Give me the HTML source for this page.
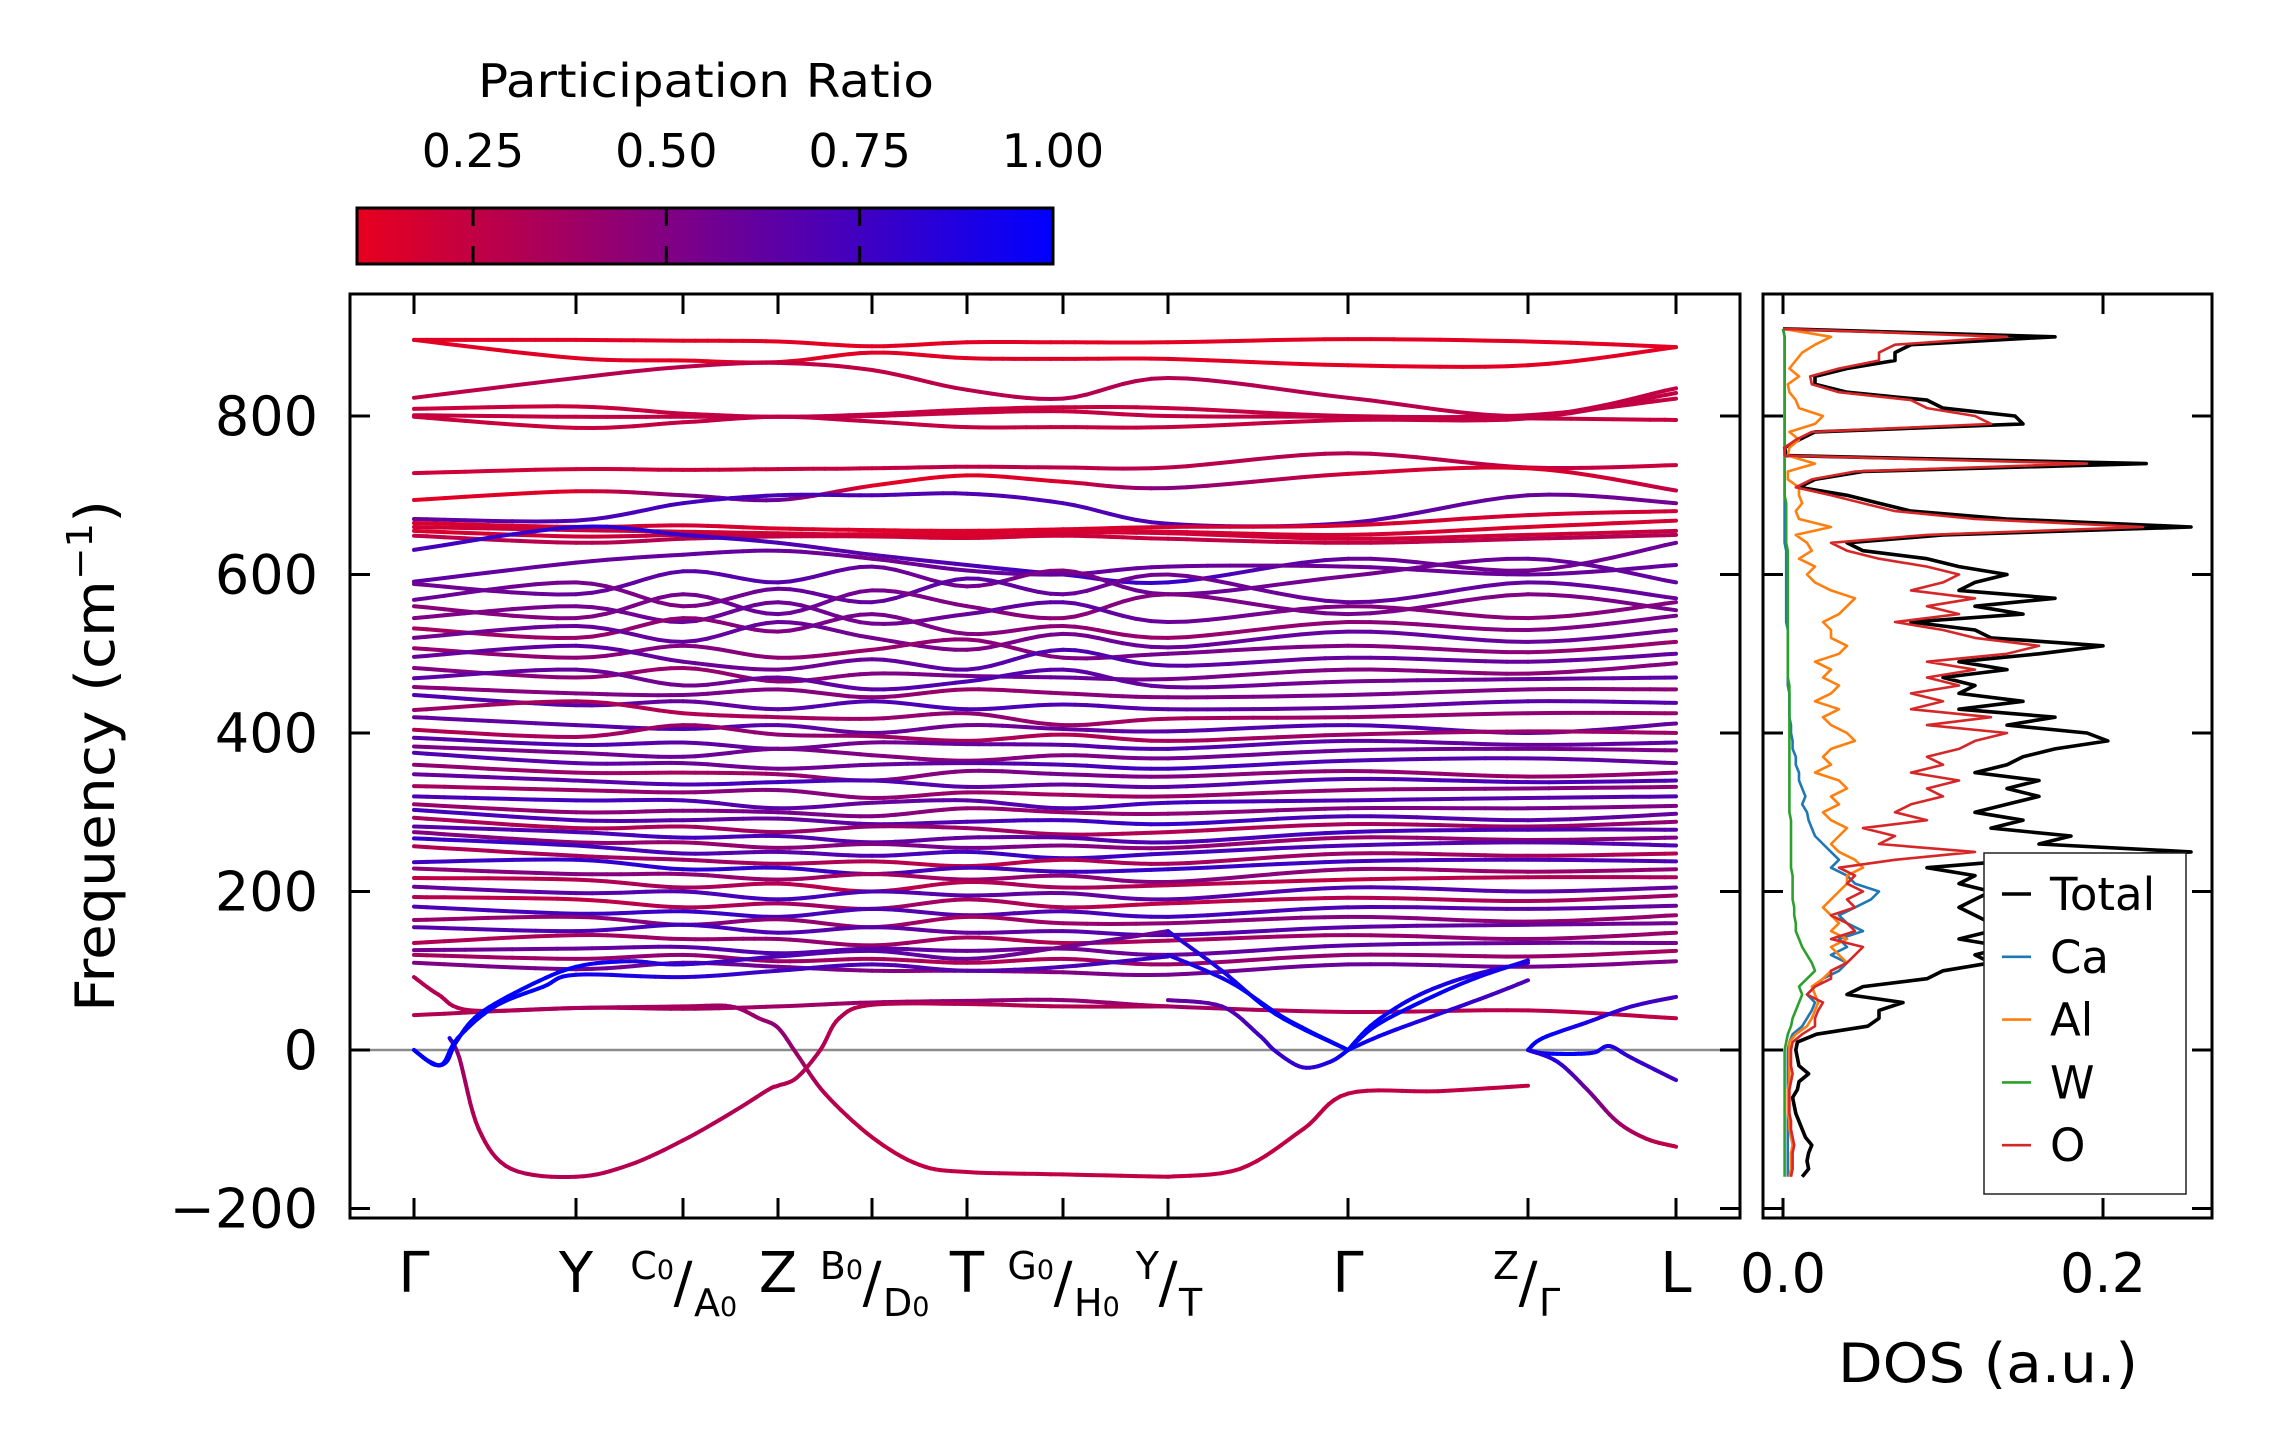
<!DOCTYPE html>
<html><head><meta charset="utf-8"><style>
html,body{margin:0;padding:0;background:#fff;}
svg{display:block;font-family:"DejaVu Sans","Liberation Sans",sans-serif;}
</style></head><body>
<svg id="chart" width="2271" height="1455" viewBox="0 0 2271 1455" xmlns="http://www.w3.org/2000/svg">
<defs>
<linearGradient id="cbgrad" x1="0" x2="1" y1="0" y2="0">
<stop offset="0" stop-color="rgb(232,0,30)"/><stop offset="1" stop-color="rgb(0,0,255)"/>
</linearGradient>
<clipPath id="mainclip"><rect x="350" y="294" width="1390" height="924"/></clipPath>
<clipPath id="dosclip"><rect x="1763" y="294" width="449" height="924"/></clipPath>
</defs>
<rect x="0" y="0" width="2271" height="1455" fill="#fff"/>
<g>
<text x="706" y="97" font-size="46" text-anchor="middle" textLength="456" lengthAdjust="spacingAndGlyphs">Participation Ratio</text>
<rect x="357" y="208" width="696" height="56" fill="url(#cbgrad)" stroke="#000" stroke-width="3"/>
<g id="cbticks"></g>
</g>
<g id="mainplot">
<line x1="350" x2="1740" y1="1050" y2="1050" stroke="#8c8c8c" stroke-width="2.5"/>
<g id="bands" clip-path="url(#mainclip)"></g>
<rect x="350" y="294" width="1390" height="924" fill="none" stroke="#000" stroke-width="3"/>
<g id="mainticks"></g>
<text transform="translate(114,756) rotate(-90)" font-size="54" text-anchor="middle" textLength="512" lengthAdjust="spacingAndGlyphs">Frequency (cm<tspan font-size="36" dy="-22">−1</tspan><tspan dy="22">)</tspan></text>
</g>
<g id="dosplot">
<g id="doslines" clip-path="url(#dosclip)"></g>
<rect x="1763" y="294" width="449" height="924" fill="none" stroke="#000" stroke-width="3"/>
<g id="dosticks"></g>
<text x="1988" y="1382" font-size="54" text-anchor="middle" textLength="300" lengthAdjust="spacingAndGlyphs">DOS (a.u.)</text>
<g>
<rect x="1984" y="853" width="202" height="341" fill="#fff" stroke="#222" stroke-width="1.5"/>
<g id="legendentries"></g>
</g>
</g>
</svg>
<script>
const kLabels = ["Γ","Y","C0|A0","Z","B0|D0","T","G0|H0","Y|T","Γ","Z|Γ","L"];
const kDist = [0,162,269,364,458,553,649,754,934,1114,1262];
const yTicks = [-200,0,200,400,600,800];
const cbTicks = [0.25,0.50,0.75,1.00];
const dosTicks = [0.0,0.2];
const bandFreqs = [
[896,896,895,894,888,893,893,893,897,894,887],
[896,873,870,868,880,873,872,872,864,864,887],
[823,848,862,867,858,833,822,848,823,800,835],
[809,812,803,799,802,808,811,810,800,801,822],
[801,799,799,799,800,804,806,800,799,797,795],
[799,785,792,799,793,786,786,786,795,797,829],
[728,733,732,733,734,736,735,735,753,735,738],
[694,705,700,694,712,725,717,709,727,734,706],
[670,668,690,700,700,702,690,664,665,700,690],
[665,660,662,658,656,655,657,660,662,675,680],
[660,656,654,652,650,652,655,654,650,660,668],
[655,648,650,650,651,650,653,652,645,650,655],
[649,640,645,648,648,646,649,645,640,645,650],
[631,660,650,640,625,612,600,590,620,605,640],
[591,615,625,630,620,605,600,610,610,600,612],
[588,575,604,590,610,585,605,575,598,620,590],
[568,590,560,582,565,595,575,600,565,590,570],
[560,545,575,550,580,560,545,575,550,575,555],
[545,560,540,565,538,550,565,540,560,545,565],
[532,520,545,528,550,525,535,520,540,530,548],
[520,535,515,540,520,505,525,508,528,515,530],
[507,495,510,495,505,518,495,500,510,502,515],
[496,510,490,480,493,480,505,485,495,490,500],
[482,470,482,465,475,472,470,468,480,475,488],
[469,480,460,470,455,465,480,458,465,468,470],
[458,450,448,455,445,455,450,445,448,455,455],
[448,435,440,430,440,430,436,430,432,440,438],
[429,440,425,420,418,425,410,418,420,425,425],
[420,410,405,410,400,410,405,402,410,400,412],
[404,395,410,398,396,390,398,390,398,402,400],
[394,385,388,380,388,386,385,380,390,385,388],
[383,375,370,380,372,365,372,368,378,380,378],
[375,362,362,355,360,362,360,355,365,368,362],
[360,350,350,348,340,352,348,345,352,345,350],
[348,340,335,338,340,332,335,332,342,338,340],
[333,328,325,328,318,325,322,320,328,330,332],
[320,315,315,305,312,315,305,312,315,318,320],
[310,300,302,300,295,305,300,298,305,305,308],
[303,290,290,292,285,288,290,285,295,290,298],
[293,280,282,275,282,280,272,275,285,282,288],
[282,275,268,270,262,268,268,262,275,278,278],
[275,262,262,255,260,255,258,255,268,265,268],
[267,258,248,250,245,250,242,248,258,262,258],
[257,245,240,235,238,232,240,235,248,245,248],
[237,240,228,230,222,230,225,228,238,240,238],
[229,222,222,215,222,215,220,212,228,225,228],
[217,215,205,210,200,212,205,208,215,218,218],
[206,198,200,190,200,195,198,190,205,200,205],
[193,190,180,185,178,190,180,185,192,188,195],
[181,172,175,168,178,170,175,168,180,178,182],
[164,168,158,165,155,168,160,160,168,162,170],
[155,150,158,148,155,148,150,145,155,158,160],
[135,145,140,140,132,142,135,138,145,140,148],
[126,128,130,122,128,125,128,120,132,135,135],
[120,115,120,112,115,110,115,108,120,118,125],
[110,102,110,105,100,100,98,95,108,105,112],
[44,53,52,55,60,62,63,55,48,50,40]
];
const bandPR = [
[.12,.12,.12,.12,.12,.12,.12,.12,.12,.12,.12],
[.12,.13,.12,.12,.13,.13,.13,.13,.12,.12,.12],
[.25,.3,.28,.25,.25,.28,.3,.3,.3,.25,.25],
[.22,.22,.24,.25,.25,.22,.22,.24,.25,.25,.24],
[.24,.24,.25,.26,.26,.24,.24,.25,.25,.25,.22],
[.22,.22,.25,.26,.26,.24,.24,.24,.24,.25,.25],
[.2,.2,.22,.22,.24,.26,.27,.28,.3,.25,.22],
[.12,.14,.5,.6,.12,.12,.15,.5,.2,.15,.25],
[.6,.7,.75,.72,.7,.68,.7,.7,.65,.6,.55],
[.15,.18,.18,.16,.14,.14,.15,.18,.16,.18,.2],
[.2,.22,.2,.18,.16,.15,.15,.16,.18,.15,.18],
[.15,.2,.25,.2,.15,.15,.18,.2,.2,.2,.25],
[.25,.3,.3,.25,.2,.18,.2,.25,.25,.3,.3],
[.7,.85,.8,.7,.65,.7,.75,.8,.6,.55,.6],
[.65,.6,.62,.6,.55,.6,.62,.6,.58,.6,.62],
[.55,.6,.65,.68,.6,.55,.5,.6,.55,.6,.62],
[.6,.55,.5,.6,.62,.65,.6,.55,.6,.62,.6],
[.45,.5,.55,.6,.55,.5,.45,.5,.55,.5,.55],
[.5,.55,.6,.58,.55,.6,.65,.6,.5,.45,.5],
[.35,.4,.45,.5,.55,.5,.45,.4,.45,.5,.55],
[.55,.6,.62,.6,.55,.5,.55,.6,.62,.6,.55],
[.4,.45,.5,.45,.4,.45,.5,.55,.5,.45,.4],
[.6,.65,.6,.55,.6,.65,.7,.65,.6,.6,.62],
[.5,.45,.4,.45,.5,.55,.6,.55,.5,.45,.5],
[.65,.6,.55,.6,.65,.7,.65,.6,.55,.6,.65],
[.45,.5,.55,.5,.45,.4,.45,.5,.55,.5,.45],
[.7,.65,.6,.65,.7,.72,.7,.65,.6,.65,.68],
[.4,.35,.3,.35,.4,.45,.4,.35,.4,.45,.4],
[.6,.65,.7,.65,.6,.55,.6,.65,.7,.65,.6],
[.3,.35,.4,.45,.4,.35,.3,.35,.4,.4,.38],
[.65,.7,.65,.6,.55,.6,.65,.7,.65,.6,.65],
[.5,.55,.6,.55,.5,.45,.5,.55,.6,.55,.5],
[.7,.65,.6,.55,.6,.65,.7,.75,.7,.65,.6],
[.45,.4,.35,.4,.45,.5,.55,.5,.45,.4,.45],
[.6,.65,.7,.75,.7,.65,.6,.65,.7,.72,.7],
[.35,.4,.45,.5,.45,.4,.35,.4,.45,.5,.45],
[.7,.75,.7,.65,.6,.65,.7,.75,.7,.65,.7],
[.4,.45,.5,.55,.5,.45,.4,.45,.5,.55,.5],
[.75,.7,.65,.6,.65,.7,.75,.8,.7,.65,.6],
[.35,.3,.35,.4,.45,.4,.35,.3,.35,.4,.45],
[.65,.7,.75,.7,.65,.6,.65,.7,.75,.7,.65],
[.5,.45,.4,.45,.5,.55,.5,.45,.4,.45,.5],
[.8,.75,.7,.65,.7,.75,.8,.75,.7,.65,.7],
[.3,.35,.4,.35,.3,.25,.3,.35,.4,.35,.3],
[.75,.8,.85,.8,.75,.7,.75,.8,.75,.7,.7],
[.45,.5,.45,.4,.35,.4,.45,.5,.45,.4,.45],
[.25,.3,.35,.3,.25,.3,.35,.3,.25,.3,.35],
[.6,.65,.7,.75,.7,.65,.6,.65,.7,.65,.6],
[.3,.25,.3,.35,.4,.35,.3,.25,.3,.35,.4],
[.7,.75,.8,.75,.7,.65,.7,.75,.7,.65,.6],
[.4,.45,.5,.45,.4,.35,.4,.45,.5,.45,.4],
[.65,.7,.75,.7,.65,.6,.65,.7,.65,.6,.55],
[.3,.35,.4,.45,.4,.35,.3,.35,.4,.45,.4],
[.55,.6,.65,.7,.65,.6,.55,.6,.65,.6,.55],
[.35,.4,.45,.4,.35,.3,.35,.4,.45,.4,.35],
[.5,.55,.6,.55,.5,.45,.5,.55,.6,.55,.5],
[.3,.35,.35,.38,.4,.45,.45,.4,.3,.28,.25]
];
const specialK = [
[0,0.15,0.35,1,2,2.5,2.8,3,3.2,3.5,4,4.5,5,6,7],
[7,7.4,7.75,8,8.5,9],
[0.22,0.28,0.4,0.6,1,1.5,2,2.5,2.9,3,3.2,3.45,3.65,4,5,6,7],
[0,0.12,0.2,0.26,0.4,0.7,1,1.5,2,3,4,5,6,7],
[0,0.1,0.18,0.27,0.5,0.8,1,2,3,4,5,6,7],
[7,7.3,7.6,8],
[7,7.35,7.65,8],
[7,7.3,7.5,7.6,7.75,7.9,8],
[8,8.15,8.4,8.7,9],
[8,8.15,8.4,8.7,9],
[8,8.2,8.5,8.8,9],
[9,9.1,9.4,9.7,10],
[9,9.1,9.3,9.45,9.55,9.7,10],
[9,9.2,9.4,9.6,9.8,10]
];
const specialF = [
[92,70,50,53,55,55,40,28,-5,-55,-110,-145,-154,-157,-160],
[-160,-150,-100,-55,-52,-45],
[15,-10,-100,-150,-160,-145,-114,-80,-50,-45,-35,0,40,57,58,55,55],
[0,-18,-15,10,45,80,105,112,108,118,125,115,130,150],
[0,-15,-17,15,55,80,95,92,100,108,100,105,118],
[150,100,45,0],
[120,85,40,0],
[63,55,20,-2,-22,-15,0],
[0,35,70,95,110],
[0,30,60,90,113],
[0,20,45,70,88],
[0,15,35,55,67],
[0,-4,-5,-3,5,-10,-38],
[0,-15,-50,-90,-112,-122]
];
const specialP = [
[.3,.3,.3,.35,.35,.4,.4,.45,.4,.3,.25,.25,.25,.25,.25],
[.25,.25,.25,.25,.25,.25],
[1,.4,.3,.3,.3,.3,.3,.3,.3,.3,.3,.3,.3,.3,.3,.3,.35],
[1,1,1,1,1,1,1,.9,.8,.7,.65,.6,.55,.6],
[1,1,1,1,1,1,.95,.85,.75,.7,.65,.7,.8],
[.8,.9,1,1],
[.85,.95,1,1],
[.6,.65,.75,.8,.8,.9,1],
[1,1,.95,.85,.8],
[1,1,1,.95,.9],
[1,.95,.85,.75,.7],
[1,1,.9,.8,.72],
[1,1,1,.95,.9,.8,.75],
[.9,.85,.6,.4,.3,.25]
];
const dosStart = -160, dosStep = 10;
const dosTotal = [.012,.016,.015,.016,.018,.014,.012,.010,.008,.007,.006,.009,.010,.016,.010,.009,.008,.009,.021,.053,.060,.060,.075,.040,.050,.090,.100,.130,.120,.140,.110,.130,.130,.120,.110,.120,.130,.110,.120,.090,.150,.255,.160,.180,.130,.150,.120,.140,.160,.140,.160,.120,.140,.150,.170,.203,.190,.140,.170,.110,.150,.110,.120,.100,.140,.110,.160,.200,.130,.120,.080,.150,.120,.170,.110,.120,.140,.110,.090,.050,.040,.100,.255,.140,.080,.060,.040,.010,.020,.050,.227,.002,.001,.010,.020,.150,.145,.100,.090,.040,.020,.020,.040,.070,.070,.080,.170,0];
const dosO = [.005,.006,.006,.006,.007,.006,.005,.005,.004,.004,.004,.004,.005,.006,.005,.005,.005,.006,.012,.020,.020,.022,.025,.015,.020,.030,.030,.040,.045,.050,.030,.045,.040,.030,.045,.040,.050,.040,.045,.035,.070,.120,.060,.070,.050,.090,.070,.080,.100,.090,.110,.080,.100,.090,.110,.120,.140,.090,.130,.080,.100,.080,.110,.090,.120,.090,.140,.160,.120,.100,.070,.110,.090,.120,.080,.100,.110,.090,.060,.040,.030,.090,.225,.120,.070,.050,.030,.008,.018,.045,.190,.001,.001,.008,.018,.130,.120,.090,.080,.035,.018,.017,.035,.060,.060,.070,.140,0];
const dosAl = [.004,.005,.005,.005,.006,.005,.004,.004,.003,.003,.003,.003,.004,.004,.004,.004,.004,.004,.008,.015,.018,.020,.022,.020,.018,.025,.030,.040,.035,.030,.040,.030,.035,.030,.025,.030,.035,.040,.040,.050,.045,.035,.030,.035,.040,.030,.025,.035,.030,.040,.035,.020,.030,.025,.030,.045,.040,.030,.025,.035,.020,.030,.035,.025,.030,.020,.035,.040,.030,.030,.025,.035,.040,.045,.030,.020,.015,.020,.010,.018,.015,.008,.030,.010,.008,.012,.010,.010,.003,.003,.020,.003,.004,.010,.004,.020,.025,.010,.008,.004,.003,.010,.004,.008,.012,.020,.030,0];
const dosCa = [.003,.003,.003,.003,.003,.003,.003,.003,.003,.003,.003,.003,.003,.003,.003,.003,.003,.004,.006,.012,.015,.018,.020,.015,.020,.025,.035,.040,.030,.040,.035,.050,.040,.035,.045,.055,.060,.045,.040,.030,.035,.030,.025,.020,.018,.016,.015,.012,.014,.012,.010,.010,.008,.008,.006,.006,.005,.005,.004,.004,.004,.004,.003,.003,.003,.003,.003,.003,.003,.003,.002,.002,.002,.002,.002,.002,.002,.002,.002,.002,.001,.001,.001,.001,.001,.001,.001,.001,.001,.001,.001,.001,.001,.001,.001,.001,.001,.001,.001,.001,.001,.001,.001,.001,.001,.001,.001,0];
const dosW = [.001,.001,.001,.001,.001,.001,.001,.001,.001,.001,.001,.001,.001,.001,.001,.001,.001,.002,.003,.005,.006,.008,.010,.012,.010,.015,.020,.018,.015,.012,.010,.008,.008,.007,.007,.006,.006,.006,.006,.005,.005,.005,.005,.005,.005,.005,.004,.004,.004,.004,.004,.004,.004,.004,.004,.004,.004,.004,.004,.004,.004,.004,.004,.003,.003,.003,.003,.003,.003,.003,.003,.003,.003,.003,.003,.003,.003,.003,.003,.003,.002,.002,.002,.002,.002,.002,.001,.001,.001,.001,.001,.001,.001,.001,.001,.001,.001,.001,.001,.001,.001,.001,.001,.001,.001,.001,.001,0];
const legendNames = ["Total","Ca","Al","W","O"];
const legendColors = ["#000000","#1f77b4","#ff7f0e","#2ca02c","#d62728"];

const NS = "http://www.w3.org/2000/svg";
const X0 = 414, X1 = 1676;
function xk(d){ return X0 + d*(X1-X0)/(kDist[kDist.length-1]-kDist[0]); }
function kToX(k){ const i=Math.min(Math.floor(k),kDist.length-2); const f=k-i; return xk(kDist[i]+(kDist[i+1]-kDist[i])*f); }
function yf(f){ return 1050 - 0.7925*f; }
function xDos(v){ return 1783 + v*1600; }
function cbX(v){ return 357 + (v-0.1)/0.9*696; }
function prColor(p){ let t=(p-0.1)/0.9; t=Math.max(0,Math.min(1,t)); return "rgb("+Math.round(232*(1-t))+",0,"+Math.round(30+225*t)+")"; }
function mk(tag,attrs,parent){ const e=document.createElementNS(NS,tag); for(const a in attrs) e.setAttribute(a,attrs[a]); parent.appendChild(e); return e; }

const cbg = document.getElementById("cbticks");
cbTicks.forEach(v=>{
  const x=cbX(v);
  if(v<1){
    const t1=mk("line",{x1:x,x2:x,y1:208,y2:226,stroke:"#000","stroke-width":3},cbg);
    
    
    const t2=mk("line",{x1:x,x2:x,y1:246,y2:264,stroke:"#000","stroke-width":3},cbg);
    
    
  }
  const tx=mk("text",{x:x,y:167,"font-size":46,"text-anchor":"middle"},cbg);
  tx.textContent=v.toFixed(2);
  
  
});

const bg = document.getElementById("bands");
function drawCurve(pts, prs){
  const n=pts.length, SUB=8;
  for(let i=0;i<n-1;i++){
    const p0=pts[Math.max(0,i-1)], p1=pts[i], p2=pts[i+1], p3=pts[Math.min(n-1,i+2)];
    let prev=p1;
    for(let s=1;s<=SUB;s++){
      const t=s/SUB, t2=t*t, t3=t2*t;
      const x=0.5*((2*p1[0])+(-p0[0]+p2[0])*t+(2*p0[0]-5*p1[0]+4*p2[0]-p3[0])*t2+(-p0[0]+3*p1[0]-3*p2[0]+p3[0])*t3);
      const y=0.5*((2*p1[1])+(-p0[1]+p2[1])*t+(2*p0[1]-5*p1[1]+4*p2[1]-p3[1])*t2+(-p0[1]+3*p1[1]-3*p2[1]+p3[1])*t3);
      const pr=prs[i]+(prs[i+1]-prs[i])*(t-0.5/SUB);
      const seg=mk("line",{x1:prev[0].toFixed(1),y1:prev[1].toFixed(1),x2:x.toFixed(1),y2:y.toFixed(1),stroke:prColor(pr),"stroke-width":4,"stroke-linecap":"round"},bg);
      
      
      prev=[x,y];
    }
  }
}
bandFreqs.forEach((fs,bi)=>{
  const pts=fs.map((f,i)=>[xk(kDist[i]),yf(f)]);
  drawCurve(pts, bandPR[bi]);
});
specialK.forEach((ks,bi)=>{
  const pts=ks.map((k,i)=>[kToX(k),yf(specialF[bi][i])]);
  drawCurve(pts, specialP[bi]);
});

const mt=document.getElementById("mainticks");
kDist.forEach((d,i)=>{
  const x=xk(d);
  const a=mk("line",{x1:x,x2:x,y1:294,y2:314,stroke:"#000","stroke-width":3},mt);
  
  
  const b=mk("line",{x1:x,x2:x,y1:1198,y2:1218,stroke:"#000","stroke-width":3},mt);
  
  
  const lab=kLabels[i];
  if(lab.indexOf("|")<0){
    const t=mk("text",{x:x,y:1292,"font-size":56,"text-anchor":"middle"},mt);
    t.textContent=lab;
    
    
  } else {
    const parts=lab.split("|");
    const g=mk("g",{},mt);
    
    
    const sup=mk("text",{x:x-9,y:1279,"font-size":38,"text-anchor":"end"},g);
    if(parts[0].length>1){ sup.textContent=parts[0][0]; const s=mk("tspan",{"font-size":27},sup); s.textContent=parts[0].slice(1); }
    else sup.textContent=parts[0];
    const sl=mk("text",{x:x,y:1302,"font-size":56,"text-anchor":"middle"},g); sl.textContent="/";
    const sub=mk("text",{x:x+11,y:1316,"font-size":38,"text-anchor":"start"},g);
    if(parts[1].length>1){ sub.textContent=parts[1][0]; const s=mk("tspan",{"font-size":27},sub); s.textContent=parts[1].slice(1); }
    else sub.textContent=parts[1];
  }
});
yTicks.forEach(v=>{
  const y=yf(v);
  const a=mk("line",{x1:350,x2:370,y1:y,y2:y,stroke:"#000","stroke-width":3},mt);
  
  
  const b=mk("line",{x1:1720,x2:1740,y1:y,y2:y,stroke:"#000","stroke-width":3},mt);
  
  
  const t=mk("text",{x:318,y:y+19,"font-size":54,"text-anchor":"end"},mt);
  t.textContent=(v<0?"−":"")+Math.abs(v);
  
  
});

const dl=document.getElementById("doslines");
const dosSeries=[dosTotal,dosCa,dosAl,dosW,dosO];
dosSeries.forEach((arr,si)=>{
  const pts=arr.map((v,i)=>xDos(v).toFixed(1)+","+yf(dosStart+i*dosStep).toFixed(1)).join(" ");
  const pl=mk("polyline",{points:pts,fill:"none",stroke:legendColors[si],"stroke-width":si===0?3.6:2.6,"stroke-linejoin":"round"},dl);
  
  
});
const dt=document.getElementById("dosticks");
dosTicks.forEach(v=>{
  const x=xDos(v);
  const a=mk("line",{x1:x,x2:x,y1:294,y2:314,stroke:"#000","stroke-width":3},dt);
  
  
  const b=mk("line",{x1:x,x2:x,y1:1198,y2:1218,stroke:"#000","stroke-width":3},dt);
  
  
  const t=mk("text",{x:x,y:1292,"font-size":54,"text-anchor":"middle"},dt);
  t.textContent=v.toFixed(1);
  
  
});
yTicks.forEach(v=>{
  const y=yf(v);
  const a=mk("line",{x1:1763,x2:1783,y1:y,y2:y,stroke:"#000","stroke-width":3},dt);
  
  
  const b=mk("line",{x1:2192,x2:2212,y1:y,y2:y,stroke:"#000","stroke-width":3},dt);
  
  
});
const lg=document.getElementById("legendentries");
legendNames.forEach((n,i)=>{
  const y=894+i*62.8;
  const l=mk("line",{x1:2002,x2:2031,y1:y,y2:y,stroke:legendColors[i],"stroke-width":i===0?3.6:2.6},lg);
  
  
  const t=mk("text",{x:2050,y:y+16,"font-size":45},lg);
  t.textContent=n;
  
  
});
</script>
</body></html>
